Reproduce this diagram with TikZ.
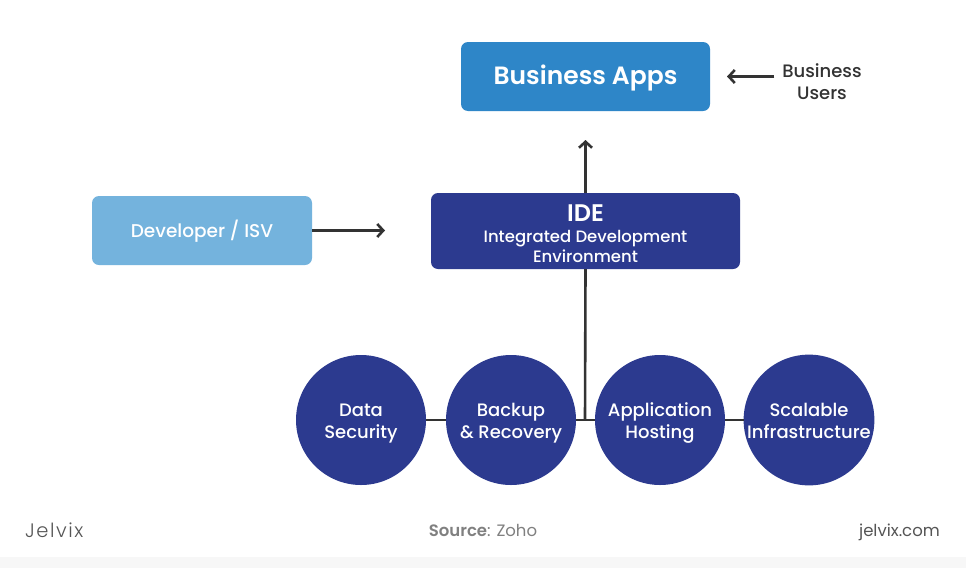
\documentclass[tikz,border=0pt]{standalone}
\usepackage{fontspec}
\setmainfont{Poppins}[UprightFont=* Medium, BoldFont=* SemiBold]
\newfontfamily\regfont{Poppins}[BoldFont=* SemiBold]
\newfontfamily\logofont{Poppins}[UprightFont=* Light]
\usetikzlibrary{arrows.meta}
\definecolor{appsblue}{HTML}{2E86C8}
\definecolor{navy}{HTML}{2C3A8F}
\definecolor{devblue}{HTML}{74B3DD}
\definecolor{linegray}{HTML}{333333}
\definecolor{txtgray}{HTML}{555555}
\newcommand{\lowered}[2]{\raisebox{-#1}[\height][\depth]{\begin{tabular}{@{}c@{}}#2\end{tabular}}}
\begin{document}
\begin{tikzpicture}[x=1pt,y=-1pt,
  box/.style={rounded corners=7pt, inner sep=0pt, outer sep=0pt, text=white, align=center},
  circ/.style={circle, fill=navy, minimum size=130pt, inner sep=0pt, outer sep=0pt, text=white, align=center, font=\fontsize{18}{22}\selectfont},
  arr/.style={draw=linegray, line width=2.6pt, -{Straight Barb[length=6pt,width=13pt,line width=2.6pt]}},
  conn/.style={draw=linegray, line width=2.6pt}
]
\useasboundingbox (0,0) rectangle (966,568);
\fill[white] (0,0) rectangle (966,568);
\fill[gray!6] (0,557) rectangle (966,568);

\node[box, fill=appsblue, minimum width=249pt, minimum height=69pt,
      font=\fontsize{25}{27}\selectfont\bfseries] (apps) at (585.5,76.5) {\lowered{2pt}{Business Apps}};
\node[inner sep=0pt, outer sep=0pt, align=center, text=linegray,
      font=\fontsize{18}{22}\selectfont] (users) at (822,82) {Business\\Users};

\node[box, fill=navy, minimum width=309pt, minimum height=76pt,
      font=\fontsize{16.5}{20}\selectfont] (ide) at (585.5,231)
  {\lowered{6pt}{\fontsize{24}{24}\selectfont\bfseries IDE\\[1pt]
   \fontsize{16.5}{20}\selectfont Integrated Development\\Environment}};

\node[box, fill=devblue, minimum width=220pt, minimum height=69pt,
      font=\fontsize{18.5}{20}\selectfont] (dev) at (202,230.5) {\lowered{1pt}{Developer / ISV}};

\node[circ] (c1) at (361,420) {\lowered{3.5pt}{Data\\Security}};
\node[circ] (c2) at (511,420) {\lowered{3.5pt}{Backup\\\& Recovery}};
\node[circ] (c3) at (660,420) {\lowered{3.5pt}{Application\\Hosting}};
\node[circ] (c4) at (809,420) {\lowered{3.5pt}{Scalable\\Infrastructure}};
\coordinate (j) at (585,420);

\draw[arr, shorten <=8pt, shorten >=17pt] (users.west |- apps.east) -- (apps.east);
\draw[arr, shorten >=29pt] (ide.north) -- (apps.south);
\draw[arr, shorten >=46pt] (dev.east) -- (dev.east -| ide.west);
\draw[conn] (ide.south) -- (j);
\draw[conn] (c1.east) -- (c2.west);
\draw[conn] (c2.east) -- (c3.west);
\draw[conn] (c3.east) -- (c4.west);

\node[anchor=west, inner sep=0pt, text=txtgray, font=\logofont\fontsize{19.5}{22}\selectfont\addfontfeature{LetterSpace=8}] (logo) at (25,530) {Jelvix};
\node[inner sep=0pt, text=gray, font=\regfont\fontsize{16.5}{20}\selectfont] (src) at (483,530) {\textbf{Source}: Zoho};
\node[anchor=east, inner sep=0pt, text=txtgray, font=\regfont\fontsize{16.5}{20}\selectfont] (site) at (940,532) {jelvix.com};
\end{tikzpicture}
\end{document}
